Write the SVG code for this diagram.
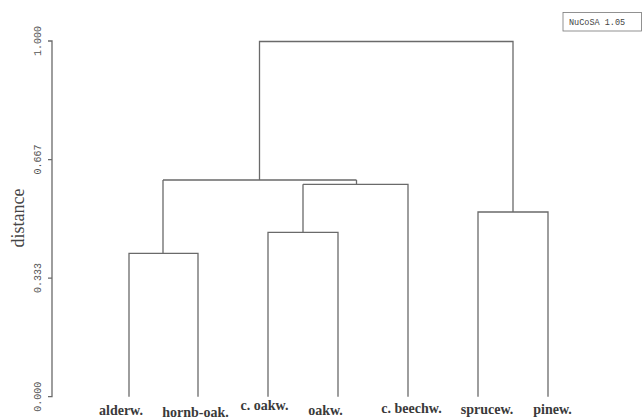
<svg xmlns="http://www.w3.org/2000/svg" width="644" height="419" viewBox="0 0 644 419">
<style>
.ln{fill:none;stroke:#6a6a6a;stroke-width:1.3}
.leaf{font-family:"Liberation Serif","Times New Roman",serif;font-weight:bold;font-size:14px;fill:#3a3a3a;text-anchor:middle}
.tick{font-family:"Liberation Mono","Courier New",monospace;font-size:10px;fill:#555;text-anchor:middle}
.ttl{font-family:"Liberation Serif","Times New Roman",serif;font-size:18px;fill:#444;text-anchor:middle}
.badge{font-family:"Liberation Mono","Courier New",monospace;font-size:8.5px;fill:#444}
</style>
<rect width="644" height="419" fill="#fff"/>
<g id="axis">
<path class="ln" d="M48 41H52V396.7H48M48 159.6H52M48 278.1H52"/>
<text class="tick" transform="translate(41 41) rotate(-90)">1.000</text>
<text class="tick" transform="translate(41 159.6) rotate(-90)">0.667</text>
<text class="tick" transform="translate(41 278.1) rotate(-90)">0.333</text>
<text class="tick" transform="translate(41 396.7) rotate(-90)">0.000</text>
<text class="ttl" transform="translate(24 218) rotate(-90)">distance</text>
</g>
<g id="badge">
<rect x="563" y="12.5" width="78.5" height="18.5" fill="#fff" stroke="#777" stroke-width="0.8"/>
<text class="badge" x="569" y="25">NuCoSA 1.05</text>
</g>
<g id="connectors">
<path class="ln" d="M129 396.7V253.3H198V396.7M163 253.3V180"/>
<path class="ln" d="M268 396.7V232.3H338V396.7M303 232.3V184.3"/>
<path class="ln" d="M303 184.3H408V396.7M356.5 184.3V180"/>
<path class="ln" d="M163 180H356.5M259.5 180V41.5H513V212"/>
<path class="ln" d="M478 396.7V212H548V396.7"/>
</g>
<g id="alderw"><text class="leaf" x="121" y="414.5">alderw.</text></g>
<g id="hornb-oak"><text class="leaf" x="195.5" y="416.7">hornb-oak.</text></g>
<g id="c-oakw"><text class="leaf" x="264.5" y="409.5">c. oakw.</text></g>
<g id="oakw"><text class="leaf" x="325.5" y="414.5">oakw.</text></g>
<g id="c-beechw"><text class="leaf" x="411.5" y="412.7">c. beechw.</text></g>
<g id="sprucew"><text class="leaf" x="487" y="414">sprucew.</text></g>
<g id="pinew"><text class="leaf" x="552.5" y="414">pinew.</text></g>
</svg>
